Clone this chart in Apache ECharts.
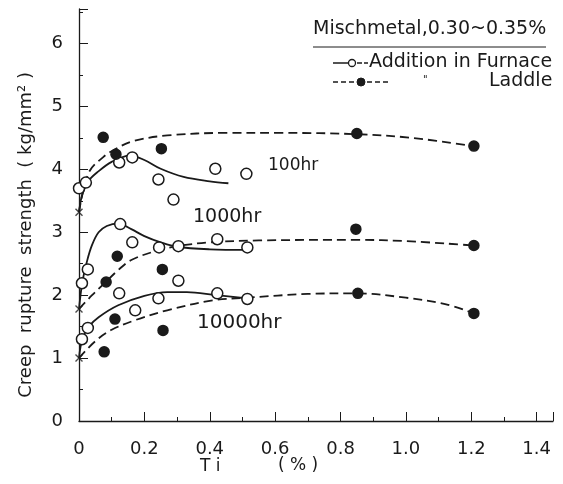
<!DOCTYPE html>
<html>
<head>
<meta charset="utf-8">
<script src="https://cdn.jsdelivr.net/npm/echarts@6/dist/echarts.min.js"></script>
<style>
  html, body { margin: 0; padding: 0; background: #fff; }
  #chart { width: 563px; height: 484px; }
</style>
</head>
<body>
<div id="chart"></div>
<script>
// x ticks
var xTicks = [0, 0.2, 0.4, 0.6, 0.8, 1.0, 1.2, 1.4];
var yTicks = [0, 1, 2, 3, 4, 5, 6];

// measured points [Ti %, strength]
var furnace100 = [[0, 3.70], [0.021, 3.79], [0.123, 4.11], [0.163, 4.19], [0.243, 3.84], [0.289, 3.52], [0.417, 4.01], [0.512, 3.93]];
var ladle100 = [[0.074, 4.51], [0.113, 4.24], [0.252, 4.33], [0.85, 4.57], [1.208, 4.37]];
var furnace1000 = [[0.009, 2.19], [0.027, 2.41], [0.126, 3.13], [0.163, 2.84], [0.245, 2.76], [0.304, 2.78], [0.304, 2.23], [0.423, 2.89], [0.515, 2.76]];
var ladle1000 = [[0.083, 2.21], [0.117, 2.62], [0.255, 2.41], [0.847, 3.05], [1.208, 2.79]];
var furnace10000 = [[0.009, 1.30], [0.027, 1.48], [0.123, 2.03], [0.172, 1.76], [0.243, 1.95], [0.423, 2.03], [0.515, 1.94]];
var ladle10000 = [[0.077, 1.10], [0.11, 1.62], [0.257, 1.44], [0.853, 2.03], [1.208, 1.71]];
var noAddition = [[0, 3.32], [0, 1.78], [0, 1.0]];

// fitted curves
var solid100 = [[0, 3.32], [0.01, 3.6], [0.03, 3.82], [0.055, 3.95], [0.1, 4.12], [0.155, 4.22], [0.2, 4.15], [0.25, 4.01], [0.32, 3.88], [0.4, 3.81], [0.457, 3.78]];
var dash100 = [[0, 3.32], [0.03, 3.95], [0.075, 4.2], [0.11, 4.32], [0.166, 4.45], [0.27, 4.54], [0.45, 4.58], [0.62, 4.58], [0.85, 4.56], [1.02, 4.5], [1.208, 4.37]];
var solid1000 = [[0, 1.78], [0.01, 2.2], [0.025, 2.55], [0.04, 2.8], [0.06, 3.0], [0.085, 3.1], [0.12, 3.14], [0.16, 3.05], [0.2, 2.94], [0.25, 2.84], [0.3, 2.77], [0.4, 2.73], [0.515, 2.72]];
var dash1000 = [[0, 1.78], [0.04, 2.0], [0.08, 2.2], [0.12, 2.4], [0.16, 2.56], [0.24, 2.71], [0.3, 2.78], [0.4, 2.84], [0.55, 2.87], [0.85, 2.88], [1.0, 2.86], [1.208, 2.79]];
var solid10000 = [[0, 1.0], [0.01, 1.3], [0.03, 1.5], [0.06, 1.65], [0.12, 1.84], [0.2, 1.99], [0.27, 2.05], [0.33, 2.05], [0.42, 2.0], [0.515, 1.95]];
var dash10000 = [[0, 1.0], [0.05, 1.27], [0.1, 1.45], [0.17, 1.6], [0.27, 1.76], [0.41, 1.92], [0.515, 1.96], [0.7, 2.02], [0.85, 2.03], [1.0, 1.96], [1.12, 1.86], [1.208, 1.71]];

var ink = '#1a1a1a';
var font = 'DejaVu Sans';

var chart = echarts.init(document.getElementById('chart'));

function curve(name, data, dashed) {
    return {
        name: name,
        type: 'line',
        data: data,
        smooth: 0.35,
        symbol: 'none',
        silent: true,
        lineStyle: {
            color: ink,
            width: 1.8,
            type: dashed ? [9, 5] : 'solid'
        },
        z: 2
    };
}

function dots(name, data, filled) {
    return {
        name: name,
        type: 'scatter',
        data: data,
        symbol: 'circle',
        symbolSize: filled ? 10 : 11,
        itemStyle: {
            color: filled ? ink : '#fff',
            borderColor: ink,
            borderWidth: 1.5,
            opacity: 1
        },
        z: 3
    };
}

function label(text, x, y, size) {
    return {
        type: 'text', left: x, top: y,
        style: { text: text, font: size + 'px ' + font, fill: ink }
    };
}

var option = {
    backgroundColor: '#fff',
    animation: false,
    grid: {
        left: 79,
        right: 10,
        top: 9,
        bottom: 63
    },
    xAxis: {
        type: 'value',
        min: 0,
        max: 1.45,
        interval: 0.2,
        axisLine: { lineStyle: { color: ink, width: 1.3 } },
        axisTick: { inside: true, length: 9, lineStyle: { color: ink } },
        minorTick: { show: true, splitNumber: 2, length: 4, lineStyle: { color: ink } },
        splitLine: { show: false },
        axisLabel: {
            color: ink,
            fontFamily: font,
            fontSize: 18,
            margin: 19,
            showMaxLabel: false,
            formatter: function(v) {
                var i = xTicks.indexOf(Math.round(v * 10) / 10);
                if (i < 0) return '';
                return i === 0 ? '0' : xTicks[i].toFixed(1);
            }
        }
    },
    yAxis: {
        type: 'value',
        min: 0,
        max: 6.55,
        interval: 1,
        axisLine: { show: true, lineStyle: { color: ink, width: 1.3 } },
        axisTick: { show: true, inside: true, length: 9, lineStyle: { color: ink } },
        minorTick: { show: true, splitNumber: 2, length: 4, lineStyle: { color: ink } },
        splitLine: { show: false },
        axisLabel: {
            color: ink,
            fontFamily: font,
            fontSize: 18,
            margin: 16,
            showMaxLabel: false,
            formatter: function(v) {
                return yTicks.indexOf(v) >= 0 ? String(v) : '';
            }
        }
    },
    graphic: [
        {
            type: 'text', left: 17, top: 72, rotation: Math.PI / 2,
            style: { text: 'Creep  rupture  strength  ( kg/mm² )', font: '18px ' + font, fill: ink }
        },
        label('T i', 200, 458, 17),
        label('( % )', 278, 457, 17),
        label('100hr', 268, 157, 17),
        label('1000hr', 193, 208, 19),
        label('10000hr', 197, 313, 20),
        label('Mischmetal,0.30~0.35%', 313, 20, 19),
        {
            type: 'line', shape: { x1: 313, y1: 47, x2: 546, y2: 47 },
            style: { stroke: ink, lineWidth: 1 }
        },
        {
            type: 'line', shape: { x1: 333, y1: 63, x2: 348, y2: 63 },
            style: { stroke: ink, lineWidth: 1.5 }
        },
        {
            type: 'circle', shape: { cx: 352, cy: 63, r: 3.5 },
            style: { fill: '#fff', stroke: ink, lineWidth: 1.3 }
        },
        {
            type: 'line', shape: { x1: 357, y1: 63, x2: 368, y2: 63 },
            style: { stroke: ink, lineWidth: 1.5, lineDash: [5, 2] }
        },
        label('Addition in Furnace', 369, 53, 19),
        {
            type: 'line', shape: { x1: 333, y1: 82, x2: 356, y2: 82 },
            style: { stroke: ink, lineWidth: 1.5, lineDash: [5, 3] }
        },
        {
            type: 'circle', shape: { cx: 361, cy: 82, r: 4 },
            style: { fill: ink, stroke: ink, lineWidth: 1 }
        },
        {
            type: 'line', shape: { x1: 367, y1: 82, x2: 390, y2: 82 },
            style: { stroke: ink, lineWidth: 1.5, lineDash: [5, 3] }
        },
        label('"', 423, 75, 10),
        label('Laddle', 489, 72, 19)
    ],
    series: [
        curve('100hr furnace', solid100, false),
        curve('100hr ladle', dash100, true),
        curve('1000hr furnace', solid1000, false),
        curve('1000hr ladle', dash1000, true),
        curve('10000hr furnace', solid10000, false),
        curve('10000hr ladle', dash10000, true),
        dots('Furnace 100hr', furnace100, false),
        dots('Ladle 100hr', ladle100, true),
        dots('Furnace 1000hr', furnace1000, false),
        dots('Ladle 1000hr', ladle1000, true),
        dots('Furnace 10000hr', furnace10000, false),
        dots('Ladle 10000hr', ladle10000, true),
        {
            name: 'No addition',
            type: 'scatter',
            data: noAddition,
            symbol: 'path://M0,0L10,10M10,0L0,10',
            symbolSize: 7,
            itemStyle: { color: 'none', borderColor: ink, borderWidth: 1.4 },
            z: 4
        }
    ]
};

chart.setOption(option);
</script>
</body>
</html>
